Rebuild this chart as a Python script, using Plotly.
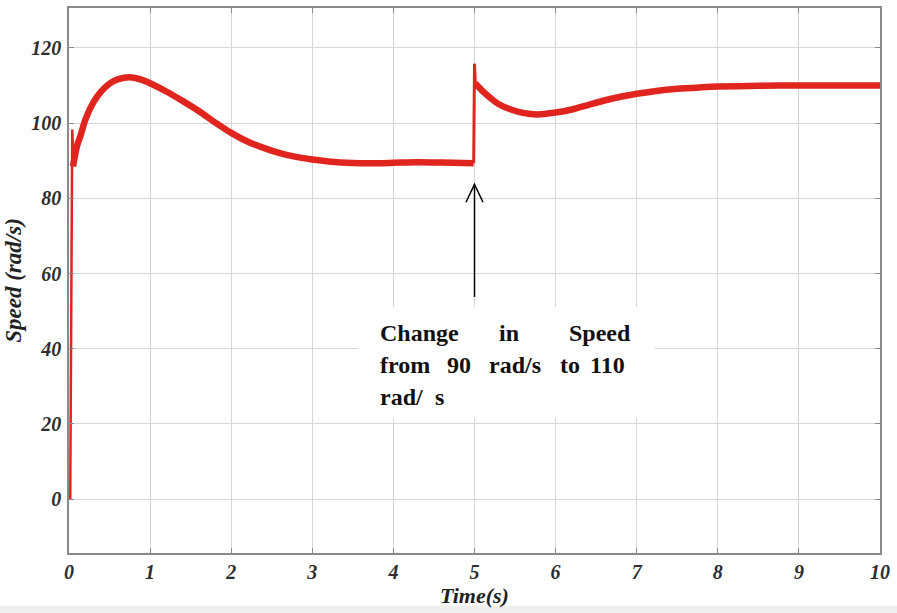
import plotly.graph_objects as go

# ---- data ----
time_main_1 = [0.05, 0.1, 0.14, 0.2, 0.3, 0.4, 0.5, 0.6, 0.75, 0.9, 1.0, 1.2, 1.4, 1.6,
               1.8, 2.0, 2.2, 2.4, 2.6, 2.8, 3.0, 3.2, 3.5, 3.8, 4.0, 4.3, 4.6, 4.99]
speed_main_1 = [88.5, 94.0, 96.5, 100.8, 105.5, 108.5, 110.5, 111.6, 112.2, 111.5, 110.6,
                108.4, 105.9, 103.2, 100.2, 97.4, 95.1, 93.4, 92.0, 91.0, 90.3, 89.8,
                89.4, 89.35, 89.45, 89.6, 89.5, 89.3]
time_main_2 = [5.01, 5.1, 5.2, 5.3, 5.45, 5.6, 5.77, 6.0, 6.2, 6.4, 6.6, 6.8, 7.0, 7.2,
               7.5, 7.8, 8.0, 8.5, 9.0, 9.5, 10.0]
speed_main_2 = [110.5, 108.5, 106.6, 105.0, 103.6, 102.7, 102.3, 102.8, 103.6, 104.8,
                106.0, 107.0, 107.8, 108.4, 109.1, 109.5, 109.7, 109.9, 110.0, 110.0, 110.0]
time_start = [0.015, 0.04, 0.045, 0.05]
speed_start = [0.0, 98.3, 95.0, 88.5]
time_step = [4.99, 5.0, 5.01]
speed_step = [89.3, 115.8, 110.5]

x_ticks = [0, 1, 2, 3, 4, 5, 6, 7, 8, 9, 10]
y_ticks = [0, 20, 40, 60, 80, 100, 120]

RED = "#e0251e"
FONT = "Liberation Serif"

fig = go.Figure()
fig.add_trace(go.Scatter(x=time_start, y=speed_start, mode="lines",
                         line=dict(color=RED, width=2.5), showlegend=False))
fig.add_trace(go.Scatter(x=time_step, y=speed_step, mode="lines",
                         line=dict(color=RED, width=3), showlegend=False))
fig.add_trace(go.Scatter(x=time_main_1, y=speed_main_1, mode="lines",
                         line=dict(color=RED, width=6.5, shape="spline", smoothing=0.8),
                         showlegend=False))
fig.add_trace(go.Scatter(x=time_main_2, y=speed_main_2, mode="lines",
                         line=dict(color=RED, width=6.5, shape="spline", smoothing=0.8),
                         showlegend=False))

# pixel helpers (plot area: x 69..880, y 6..553)
def px_x(p):
    return (p - 69) / 81.1

def px_y(p):
    return (499 - p) / 3.775

shapes = [
    # white box behind the annotation text
    dict(type="rect", xref="x", yref="y", x0=px_x(358), x1=px_x(655),
         y0=px_y(417), y1=px_y(306), fillcolor="white", line=dict(width=0), layer="above"),
    # arrow shaft
    dict(type="line", xref="x", yref="y", x0=5, x1=5, y0=px_y(296), y1=px_y(184),
         line=dict(color="black", width=1.5), layer="above"),
    # arrow head (open chevron)
    dict(type="path", xref="x", yref="y",
         path=f"M {px_x(466)},{px_y(201)} L 5,{px_y(183)} L {px_x(483)},{px_y(201)}",
         line=dict(color="black", width=1.5), layer="above"),
    # light band at bottom of image
    dict(type="rect", xref="paper", yref="paper", x0=-0.2, x1=1.1,
         y0=(553 - 613) / 547, y1=(553 - 606) / 547, fillcolor="#efefef",
         line=dict(width=0), layer="below"),
]

ann_font = dict(family=FONT, size=24, color="#111111", weight="bold")
words = [
    ("Change", 378, 332), ("in", 497, 332), ("Speed", 567, 332),
    ("from", 378, 364), ("90", 445, 364), ("rad/s", 487, 364), ("to", 558, 364), ("110", 588, 364),
    ("rad/", 378, 396), ("s", 433, 396),
]
annotations = [
    dict(text=w, x=px_x(xp), y=px_y(yp), xref="x", yref="y", xanchor="left",
         yanchor="middle", showarrow=False, font=ann_font)
    for w, xp, yp in words
]

tick_font = dict(family=FONT, size=20, color="#2e2e2e", weight="bold", style="italic")
xtitle_font = dict(family=FONT, size=22, color="#222222", weight="bold", style="italic")
ytitle_font = dict(family=FONT, size=23, color="#222222", weight="bold", style="italic")

fig.update_layout(
    width=897, height=613,
    margin=dict(l=69, r=17, t=6, b=60),
    paper_bgcolor="white", plot_bgcolor="white",
    shapes=shapes, annotations=annotations,
    xaxis=dict(range=[0, 10], tickvals=x_ticks, ticktext=[str(v) for v in x_ticks],
               showgrid=True, gridcolor="#d6d6d6", gridwidth=1,
               showline=True, linecolor="#8a8a8a", linewidth=1.5, mirror="ticks",
               ticks="inside", ticklen=5, tickcolor="#8a8a8a",
               tickfont=tick_font, ticklabelstandoff=0, zeroline=False,
               title=dict(text="Time(s)", font=xtitle_font, standoff=0)),
    yaxis=dict(range=[px_y(553), px_y(6)], tickvals=y_ticks, ticktext=[str(v) for v in y_ticks],
               showgrid=True, gridcolor="#d6d6d6", gridwidth=1,
               showline=True, linecolor="#8a8a8a", linewidth=1.5, mirror="ticks",
               ticks="inside", ticklen=5, tickcolor="#8a8a8a",
               tickfont=tick_font, ticklabelstandoff=2, zeroline=False,
               title=dict(text="Speed (rad/s)", font=ytitle_font, standoff=3)),
)

fig.write_html("out.html")
